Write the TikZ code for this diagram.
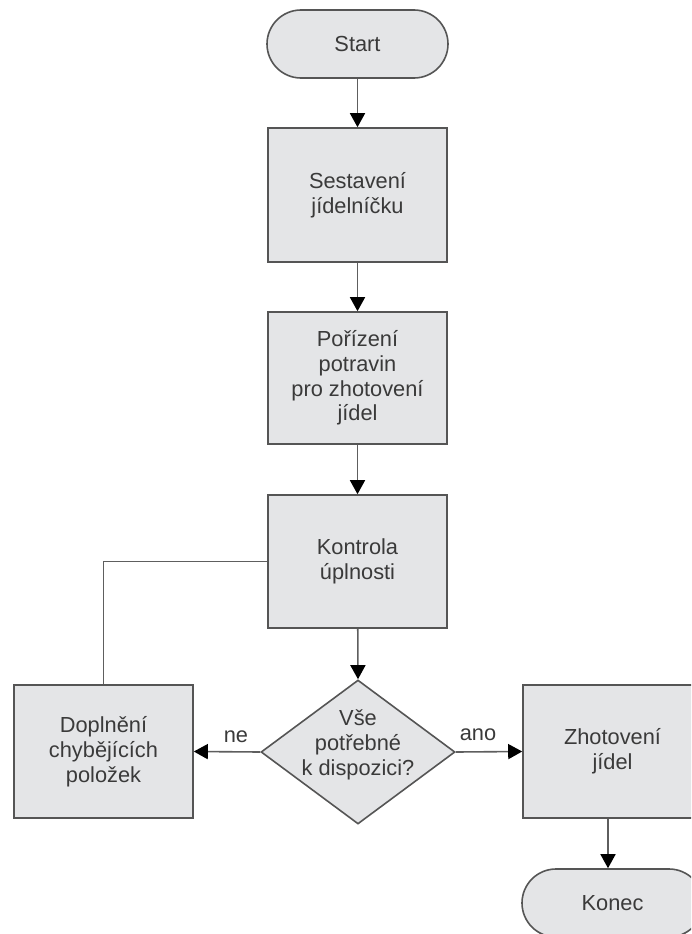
\documentclass[tikz,border=0pt]{standalone}
\usepackage{fontspec}
\setmainfont{Liberation Sans}
\usetikzlibrary{arrows.meta,shapes.geometric}
\definecolor{boxfill}{HTML}{E4E5E7}
\definecolor{edgec}{HTML}{555555}
\definecolor{linec}{HTML}{5E5E5E}
\definecolor{txt}{HTML}{3A3A3A}
\begin{document}
\begin{tikzpicture}[x=1pt,y=-1pt,
  basefont/.style={font=\fontsize{21.8}{24.8}\selectfont, text=txt},
  proc/.style={basefont, draw=edgec, line width=1.6pt, fill=boxfill, minimum width=179pt, inner sep=0pt, align=center},
  term/.style={proc, rounded corners=34pt, minimum width=181pt, minimum height=68pt},
  decshape/.style={draw=edgec, line width=1.6pt, fill=boxfill, diamond, minimum width=194pt, minimum height=144pt, inner sep=0pt},
  conn/.style={draw=linec, line width=1.6pt},
  arr/.style={conn, -{Triangle[length=14pt,width=15pt,color=black]}},
  lbl/.style={basefont}]
\useasboundingbox (0,0) rectangle (691,934);
\clip (0,0) rectangle (691,934);

\node[term] (start) at (357.5,44) {Start};
\node[proc, minimum height=134pt] (b1) at (357.5,195) {Sestavení\\jídelníčku};
\node[proc, minimum height=132pt] (b2) at (357.5,378) {Pořízení\\potravin\\pro zhotovení\\jídel};
\node[proc, minimum height=133pt] (b3) at (357.5,561.5) {Kontrola\\úplnosti};
\node[decshape] (dec) at (358,752) {};
\node[basefont, align=center, inner sep=0pt] (dectext) at (358,745) {Vše\\potřebné\\k dispozici?};
\node[proc, minimum height=133pt] (lbox) at (103.5,751.5) {Doplnění\\chybějících\\položek};
\node[proc, minimum height=133pt] (rbox) at (612.5,751.5) {Zhotovení\\jídel};
\node[term] (konec) at (612.5,903) {Konec};

\draw[arr] (start) -- (b1);
\draw[arr] (b1) -- (b2);
\draw[arr] (b2) -- (b3);
\draw[arr] (b3) -- (dec.north);
\draw[arr] (dec.west) -- (lbox.east);
\draw[arr] (dec.east) -- (rbox.west);
\draw[arr] ([xshift=-4.5pt]rbox.south) -- ([xshift=-4.5pt]konec.north);
\draw[conn] (lbox.north) |- (b3.west);

\node[lbl] (ne) at (236,737) {ne};
\node[lbl] (ano) at (478,735) {ano};
\end{tikzpicture}
\end{document}
